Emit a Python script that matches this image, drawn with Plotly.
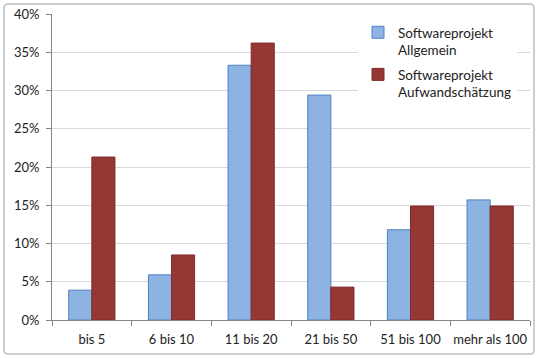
import plotly.graph_objects as go

categories = ["bis 5", "6 bis 10", "11 bis 20", "21 bis 50", "51 bis 100", "mehr als 100"]
allgemein = [0.039, 0.059, 0.333, 0.294, 0.118, 0.157]
aufwand = [0.213, 0.085, 0.362, 0.043, 0.149, 0.149]
series_names = ["Softwareprojekt<br>Allgemein", "Softwareprojekt<br>Aufwandschätzung"]
y_ticks = [0, 0.05, 0.10, 0.15, 0.20, 0.25, 0.30, 0.35, 0.40]

W, H = 538, 358
L, R, T, B = 52, 8, 14, 38
pw, ph = W - L - R, H - T - B

def px(x):
    return (x - L) / pw

def py(y):
    return (H - B - y) / ph

font = dict(family="Lato, 'Open Sans', sans-serif", size=13, color="#222")

fig = go.Figure()
fig.add_trace(go.Bar(x=categories, y=allgemein, name=series_names[0], legendgroup="a",
                     marker=dict(color="#8DB3E2", line=dict(color="#4F81BD", width=1))))
fig.add_trace(go.Bar(x=categories, y=aufwand, name=series_names[1], legendgroup="b",
                     marker=dict(color="#953735", line=dict(color="#7F2B2A", width=1))))

# rounded outer border
x0, x1 = px(4), px(534)
y0, y1 = py(354), py(4)
rx, ry = 4 / pw, 4 / ph
path = (f"M{x0+rx},{y1} L{x1-rx},{y1} Q{x1},{y1} {x1},{y1-ry} "
        f"L{x1},{y0+ry} Q{x1},{y0} {x1-rx},{y0} L{x0+rx},{y0} "
        f"Q{x0},{y0} {x0},{y0+ry} L{x0},{y1-ry} Q{x0},{y1} {x0+rx},{y1} Z")
fig.add_shape(type="path", path=path, xref="paper", yref="paper",
              line=dict(color="#BFBFBF", width=1.5), layer="below")

fig.update_layout(
    width=W, height=H,
    margin=dict(l=L, r=R, t=T, b=B, autoexpand=False),
    paper_bgcolor="white", plot_bgcolor="white",
    barmode="group", bargap=0.42, bargroupgap=0,
    font=font,
    showlegend=True,
    legend=dict(x=px(358), y=py(17), xanchor="left", yanchor="top",
                bgcolor="white", font=dict(size=13.5, color="#222"),
                valign="top", itemwidth=30, tracegroupgap=4,
                traceorder="grouped"),
    xaxis=dict(showline=True, linecolor="#868686", linewidth=1,
               ticks="outside", tickson="boundaries", ticklen=5,
               tickcolor="#868686", showgrid=False, tickfont=font,
               tickangle=0, automargin=False, ticklabelstandoff=7),
    yaxis=dict(range=[0, 0.40], tickvals=y_ticks, tickformat=".0%",
               showline=True, linecolor="#868686", linewidth=1,
               ticks="outside", ticklen=5, tickcolor="#868686",
               showgrid=True, gridcolor="#D9D9D9", gridwidth=1,
               zeroline=False, tickfont=font, automargin=False,
               ticklabelstandoff=4),
)

fig.write_html("out.html", config={"displayModeBar": False},
               post_script="document.body.style.margin='0';")
